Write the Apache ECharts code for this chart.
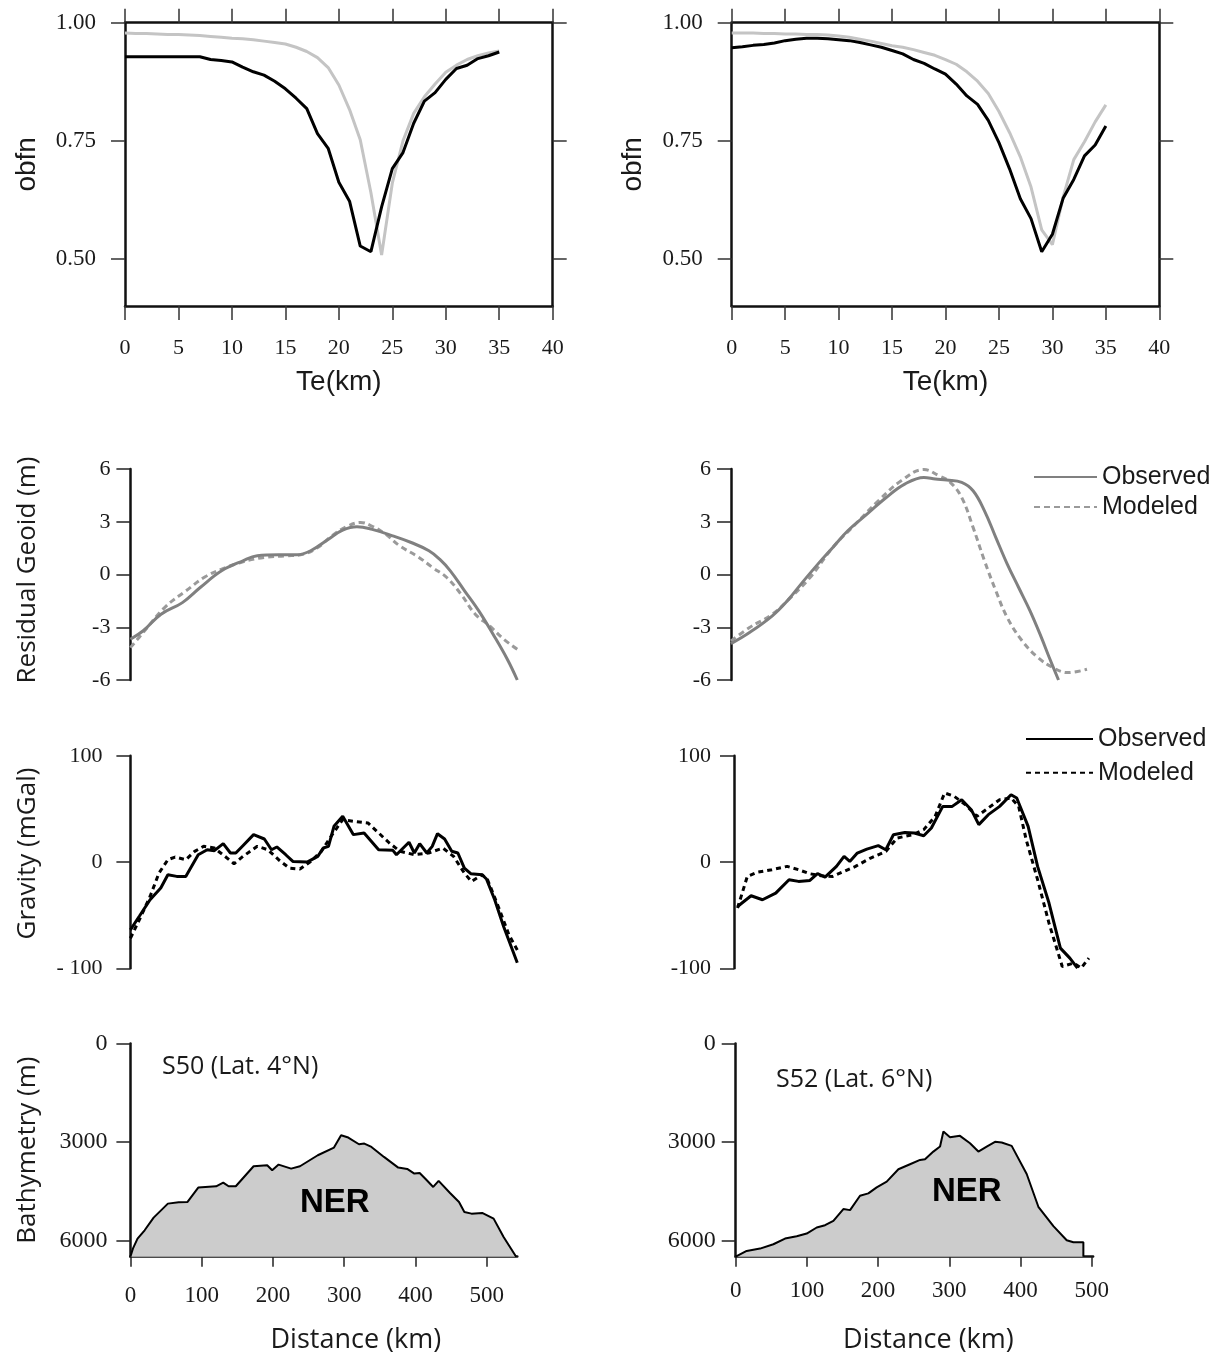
<!DOCTYPE html>
<html><head><meta charset="utf-8">
<script src="https://cdn.jsdelivr.net/npm/echarts@6/dist/echarts.min.js"></script>
<style>html,body{margin:0;padding:0;background:#fff}#c{width:1215px;height:1355px}</style>
</head><body><div id="c"></div>
<script>
// ---------- DATA ----------
const teValues = [0,1,2,3,4,5,6,7,8,9,10,11,12,13,14,15,16,17,18,19,20,21,22,23,24,25,26,27,28,29,30,31,32,33,34,35];
const obfnS50Black = [0.928,0.928,0.928,0.928,0.928,0.928,0.928,0.928,0.922,0.920,0.917,0.906,0.896,0.889,0.876,0.860,0.840,0.818,0.765,0.734,0.662,0.622,0.527,0.515,0.610,0.691,0.725,0.787,0.834,0.852,0.880,0.903,0.910,0.924,0.930,0.938];
const obfnS50Grey  = [0.978,0.977,0.977,0.976,0.975,0.975,0.974,0.973,0.971,0.969,0.967,0.966,0.964,0.961,0.958,0.955,0.948,0.939,0.926,0.905,0.868,0.816,0.752,0.640,0.508,0.660,0.750,0.808,0.843,0.870,0.895,0.910,0.922,0.930,0.936,0.940];
const obfnS52Black = [0.947,0.949,0.952,0.954,0.957,0.962,0.965,0.967,0.967,0.966,0.964,0.962,0.958,0.953,0.948,0.941,0.934,0.922,0.914,0.902,0.891,0.870,0.845,0.827,0.793,0.746,0.690,0.627,0.585,0.515,0.552,0.628,0.668,0.718,0.741,0.781];
const obfnS52Grey  = [0.978,0.978,0.978,0.977,0.977,0.976,0.976,0.975,0.975,0.974,0.972,0.969,0.965,0.961,0.956,0.951,0.948,0.943,0.937,0.931,0.922,0.912,0.896,0.876,0.850,0.812,0.767,0.716,0.652,0.561,0.530,0.630,0.710,0.748,0.790,0.826];
const obfnTicks = [0.5, 0.75, 1.0];

const geoidS50ObsX = [0,18,43,73,98,128,158,178,208,233,253,278,298,318,338,368,394,419,434,449,469,489,509,529,543];
const geoidS50ObsY = [-3.68,-3.2,-2.26,-1.6,-0.74,0.21,0.78,1.06,1.12,1.12,1.35,2.01,2.52,2.71,2.58,2.2,1.82,1.35,0.87,0.21,-0.93,-2.07,-3.4,-4.82,-6.0];
const geoidS50ModX = [0,18,48,78,105,128,158,188,218,243,263,283,303,323,338,358,378,404,424,444,464,484,504,524,543];
const geoidS50ModY = [-4.16,-3.3,-1.88,-0.93,-0.13,0.3,0.72,0.97,1.06,1.16,1.54,2.2,2.71,2.96,2.77,2.3,1.63,1.0,0.4,-0.17,-1.12,-2.26,-2.92,-3.68,-4.25];
const geoidS52ObsX = [0,26,58,79,100,122,143,164,191,218,244,271,287,303,324,340,356,372,388,404,420,436,447,460];
const geoidS52ObsY = [-3.93,-3.3,-2.35,-1.5,-0.46,0.59,1.54,2.49,3.43,4.38,5.14,5.52,5.43,5.37,5.24,4.76,3.62,2.1,0.59,-0.74,-2.07,-3.59,-4.72,-6.0];
const geoidS52ModX = [0,26,58,79,111,143,175,207,239,271,292,308,324,340,356,372,388,409,431,452,473,500];
const geoidS52ModY = [-3.78,-3.02,-2.26,-1.5,-0.17,1.54,2.87,4.19,5.33,5.97,5.62,5.24,4.38,2.68,0.78,-0.93,-2.45,-3.78,-4.72,-5.29,-5.58,-5.39];

const gravS50ObsX = [0,12.5,27.6,42.6,52.6,65,77.7,95.2,107.8,117.8,130.3,140.4,147.9,157.9,172.9,188,198,205.5,218,228,248,263,270.7,278,285.7,298,313,328,348.4,368.4,373.4,391,398.5,406,416,423.6,431,441,451,459.6,468.7,477.7,493.7,499.7,511.3,523.8,543];
const gravS50ObsY = [-63.8,-51,-35.5,-24.5,-12,-13.5,-13.5,6.9,11.6,10.7,17.3,8.5,8.5,15.4,25.8,21.7,11.6,14.2,6.9,0.6,0,5.3,13.2,14.8,33.6,43.1,25.8,27.4,11.6,11,6.9,18.6,8.5,17.3,8.5,14.8,26.7,21.7,10.1,8.5,-5.7,-11,-12,-16,-35.5,-60.7,-94.7];
const gravS50ModX = [0,12.5,27.6,40.1,52.6,62.7,77.7,90.2,102.8,117.8,132.8,145.4,157.9,178,193,208,223,238,253,268,283.2,298,313,333.3,348.4,363.4,378.4,398.5,418.5,438.6,453.6,468.7,478.7,493.7,501.3,516.3,531.3,543];
const gravS50ModY = [-71.7,-54.4,-32.4,-10.4,2.2,4.7,2.2,10.1,14.8,13.2,5.3,-1.6,5.3,14.8,11.6,2.2,-5.7,-6.6,0.6,10.1,25.8,39.9,38.4,36.8,27.4,17.9,10.1,6.9,8.5,13.2,5.3,-10.4,-18.2,-12,-16.7,-41.8,-68.6,-82.7];
const gravS52ObsX = [5,24,40,58.6,77.3,90.6,106.6,117.3,127.9,143.9,154.6,162.6,173.2,186.6,202.6,213.2,223.9,239.9,253.2,266.5,277.2,293.2,306.5,319.8,333.2,343.8,357.2,373.1,389.1,397.1,413.1,426.4,442.4,458.4,471.7,482.4];
const gravS52ObsY = [-41.8,-31.7,-35.5,-29.2,-16.6,-18.2,-17.3,-11,-14.1,-4.1,5.3,0.6,8.5,12.2,15.4,11.6,25.7,27.9,27.3,24.8,32,52.4,52.4,58.7,49.3,35.2,44.6,52.4,63.4,60.3,33.6,-4.1,-38.6,-81,-90.4,-99.8];
const gravS52ModX = [5,18.7,32,53.3,74.6,90.6,106.6,122.6,138.6,154.6,170.6,191.9,213.2,229.2,250.5,266.5,282.5,295.8,309.2,325.2,341.2,357.2,373.1,389.1,399.8,410.4,426.4,442.4,461,477.1,487.7,498.4];
const gravS52ModY = [-43.3,-13.5,-9.7,-7.2,-4.1,-7.2,-11,-12.9,-13.5,-8.8,-4.1,3.8,10,22.6,25.7,30.5,43,65,61.9,54,43,50.9,58.7,60.3,52.4,21,-16.6,-57.5,-98.3,-95.1,-99.8,-90.4];

const bathyS50X = [0,3.5,10,20,32.6,52.6,67.7,80.2,95.2,120.3,130.3,137.8,147.9,172.9,192,199,208,225.6,238,263,285.7,295.7,305.8,320.8,328.3,338.3,355.9,375.9,388.5,398.5,406,416,425,432.6,448.6,461.2,468.7,478.7,493.7,509.8,523.8,541.4];
const bathyS50Depth = [6500,6254,5949,5695,5309,4882,4841,4831,4393,4353,4241,4353,4353,3743,3712,3865,3692,3814,3743,3407,3173,2797,2868,3071,3051,3153,3458,3783,3824,3966,3946,4170,4373,4190,4556,4831,5136,5187,5166,5339,5899,6500];
const bathyS52X = [0,15.4,34.2,52.9,69.3,85.7,99.7,113.8,125.5,137.2,151.2,160.6,174.6,186.3,198,212.1,228.5,244.8,258.9,265.9,277.6,287,291.7,301,315,329.1,340.8,352.5,364.2,373.6,387.6,408.7,425.1,446.2,464.9,474.3,488.3,488.3];
const bathyS52Depth = [6500,6324,6253,6120,5947,5875,5794,5610,5539,5406,5049,5080,4641,4570,4386,4213,3835,3682,3550,3529,3295,3142,2683,2856,2815,3040,3295,3142,2999,3019,3121,3978,4978,5569,5998,6059,6059,6500];

const distTicks = [0,100,200,300,400,500];
const bathyTicks = [0,3000,6000];
const teTickLabels = ['0','5','10','15','20','25','30','35','40'];

// ---------- HELPERS ----------
const zip = (xs, ys) => xs.map((x, i) => [x, ys[i]]);
const SERIF = 'Liberation Serif';
const SANS = 'Liberation Sans';
const HUM = 'Open Sans';
const TXT = '#1a1a1a';

function topX(grid, pos) {
  const bottom = pos === 'bottom';
  return {
    gridIndex: grid, type: 'value', position: pos, min: 0, max: 40, interval: 5,
    axisLine: {show: true, onZero: false, lineStyle: {color: '#111', width: 2.5}},
    axisTick: {show: true, length: 14, lineStyle: {color: '#333', width: 1.5}},
    axisLabel: {show: bottom, margin: 31, fontFamily: SERIF, fontSize: 22, color: TXT,
      formatter: v => teTickLabels[Math.round(v / 5)]},
    splitLine: {show: false},
    name: bottom ? 'Te(km)' : '', nameLocation: 'middle', nameGap: 62,
    nameTextStyle: {fontFamily: SANS, fontSize: 28, color: TXT}
  };
}
function topY(grid, pos) {
  const left = pos === 'left';
  return {
    gridIndex: grid, type: 'value', position: pos, min: 0.4, max: 1.0,
    axisLine: {show: true, onZero: false, lineStyle: {color: '#111', width: 2.5}},
    axisTick: {show: true, length: 14, customValues: obfnTicks, lineStyle: {color: '#333', width: 1.5}},
    axisLabel: {show: left, margin: 29, customValues: obfnTicks, fontFamily: SERIF, fontSize: 23, color: TXT,
      formatter: v => v.toFixed(2)},
    splitLine: {show: false},
    name: left ? 'obfn' : '', nameLocation: 'middle', nameGap: 84,
    nameTextStyle: {fontFamily: SANS, fontSize: 28, color: TXT}
  };
}
function hiddenX(grid, max) {
  return {gridIndex: grid, type: 'value', min: 0, max: max, show: false};
}
function profY(grid, opts) {
  return Object.assign({
    gridIndex: grid, type: 'value', position: 'left',
    axisLine: {show: true, onZero: false, lineStyle: {color: '#111', width: 2.5}},
    axisTick: {show: true, length: 14, lineStyle: {color: '#222', width: 1.5}},
    splitLine: {show: false},
    nameLocation: 'middle', nameGap: 90
  }, opts);
}
function distX(grid, max, nameGap, pad, margin) {
  return {
    gridIndex: grid, type: 'value', position: 'bottom', min: 0, max: max,
    axisLine: {show: true, onZero: false, lineStyle: {color: '#111', width: 2.5}},
    axisTick: {show: true, length: 10, customValues: distTicks, lineStyle: {color: '#222', width: 1.5}},
    axisLabel: {margin: margin, customValues: distTicks, fontFamily: SERIF, fontSize: 23, color: TXT,
      formatter: v => String(v)},
    splitLine: {show: false},
    name: 'Distance (km)', nameLocation: 'middle', nameGap: nameGap,
    nameTextStyle: {fontFamily: HUM, fontSize: 27, color: TXT, padding: [0, 0, 0, pad]}
  };
}
function line(name, xi, yi, data, color, width, dash, smooth) {
  return {
    name: name, type: 'line', xAxisIndex: xi, yAxisIndex: yi, data: data,
    symbol: 'none', smooth: smooth || false, silent: true,
    lineStyle: {color: color, width: width, type: dash || 'solid', cap: 'butt'},
    itemStyle: {color: color}
  };
}
function legendBox(names, left, top, width, gap) {
  return {
    data: names, orient: 'vertical', left: left, top: top,
    padding: 0, itemWidth: width, itemHeight: 2, itemGap: gap, selectedMode: false,
    itemStyle: {opacity: 0, borderWidth: 0},
    formatter: n => n.split(' ')[0],
    textStyle: {fontFamily: SANS, fontSize: 25, lineHeight: 25, color: TXT}
  };
}

const W_L = 543 * 0.7125;
const W_R = 502 * 0.712;

const option = {
  animation: false,
  backgroundColor: '#ffffff',
  grid: [
    {left: 125, top: 22.7, width: 427.7, height: 283.3, outerBoundsMode: 'none'},
    {left: 731.7, top: 22.7, width: 427.6, height: 283.3, outerBoundsMode: 'none'},
    {left: 130.4, top: 469, width: W_L, height: 211, outerBoundsMode: 'none'},
    {left: 731, top: 469, width: W_R, height: 211, outerBoundsMode: 'none'},
    {left: 130.4, top: 755.8, width: W_L, height: 212.5, outerBoundsMode: 'none'},
    {left: 734, top: 755.8, width: W_R, height: 212.5, outerBoundsMode: 'none'},
    {left: 130.4, top: 1043.5, width: W_L, height: 213.2, outerBoundsMode: 'none'},
    {left: 735.7, top: 1043.5, width: W_R, height: 213.2, outerBoundsMode: 'none'}
  ],
  xAxis: [
    topX(0, 'bottom'), topX(0, 'top'), topX(1, 'bottom'), topX(1, 'top'),
    hiddenX(2, 543), hiddenX(3, 502), hiddenX(4, 543), hiddenX(5, 502),
    distX(6, 543, 70, 64, 28), distX(7, 502, 70, 28, 23)
  ],
  yAxis: [
    topY(0, 'left'), topY(0, 'right'), topY(1, 'left'), topY(1, 'right'),
    profY(2, {min: -6, max: 6, interval: 3,
      axisLabel: {margin: 20, fontFamily: SERIF, fontSize: 22, color: TXT},
      name: 'Residual Geoid (m)', nameTextStyle: {fontFamily: HUM, fontSize: 26, color: TXT, padding: [0, 0, 0, 9]}}),
    profY(3, {min: -6, max: 6, interval: 3,
      axisLabel: {margin: 20, fontFamily: SERIF, fontSize: 22, color: TXT}}),
    profY(4, {min: -100, max: 100, interval: 100,
      axisLabel: {margin: 28, fontFamily: SERIF, fontSize: 22, color: TXT,
        formatter: v => v < 0 ? '- ' + Math.abs(v) : String(v)},
      name: 'Gravity (mGal)', nameTextStyle: {fontFamily: HUM, fontSize: 26, color: TXT, padding: [0, 0, 0, 17]}}),
    profY(5, {min: -100, max: 100, interval: 100,
      axisLabel: {margin: 23, fontFamily: SERIF, fontSize: 22, color: TXT}}),
    profY(6, {min: 0, max: 6500, inverse: true,
      axisTick: {show: true, length: 14, customValues: bathyTicks, lineStyle: {color: '#222', width: 1.5}},
      axisLabel: {margin: 23, customValues: bathyTicks, fontFamily: SERIF, fontSize: 24, color: TXT,
        formatter: v => String(v)},
      name: 'Bathymetry (m)', nameTextStyle: {fontFamily: HUM, fontSize: 26, color: TXT}}),
    profY(7, {min: 0, max: 6500, inverse: true,
      axisTick: {show: true, length: 14, customValues: bathyTicks, lineStyle: {color: '#222', width: 1.5}},
      axisLabel: {margin: 20, customValues: bathyTicks, fontFamily: SERIF, fontSize: 24, color: TXT,
        formatter: v => String(v)}})
  ],
  legend: [
    legendBox(['Observed geoid', 'Modeled geoid'], 1033, 464.5, 63, 5),
    legendBox(['Observed gravity', 'Modeled gravity'], 1025, 726.5, 67, 8.7)
  ],
  title: [
    {text: 'S50 (Lat. 4°N)', left: 162, top: 1054, padding: 0,
      textStyle: {fontFamily: HUM, fontSize: 25, fontWeight: 'normal', color: TXT}},
    {text: 'S52 (Lat. 6°N)', left: 776, top: 1067, padding: 0,
      textStyle: {fontFamily: HUM, fontSize: 25, fontWeight: 'normal', color: TXT}},
    {text: 'NER', left: 300, top: 1186, padding: 0,
      textStyle: {fontFamily: SANS, fontSize: 33, fontWeight: 'bold', color: '#000'}},
    {text: 'NER', left: 932, top: 1175, padding: 0,
      textStyle: {fontFamily: SANS, fontSize: 33, fontWeight: 'bold', color: '#000'}}
  ],
  series: [
    line('obfn grey S50', 0, 0, zip(teValues, obfnS50Grey), '#c4c4c4', 3),
    line('obfn black S50', 0, 0, zip(teValues, obfnS50Black), '#000', 3),
    line('obfn grey S52', 2, 2, zip(teValues, obfnS52Grey), '#c4c4c4', 3),
    line('obfn black S52', 2, 2, zip(teValues, obfnS52Black), '#000', 3),

    line('Modeled geoid S50', 4, 4, zip(geoidS50ModX, geoidS50ModY), '#9a9a9a', 3, [6, 4], 0.4),
    line('Observed geoid S50', 4, 4, zip(geoidS50ObsX, geoidS50ObsY), '#808080', 3, 'solid', 0.4),
    line('Modeled geoid', 5, 5, zip(geoidS52ModX, geoidS52ModY), '#9a9a9a', 3, [6, 4], 0.4),
    line('Observed geoid', 5, 5, zip(geoidS52ObsX, geoidS52ObsY), '#808080', 3, 'solid', 0.4),

    line('Modeled gravity S50', 6, 6, zip(gravS50ModX, gravS50ModY), '#000', 3, [5, 4]),
    line('Observed gravity S50', 6, 6, zip(gravS50ObsX, gravS50ObsY), '#000', 3),
    line('Modeled gravity', 7, 7, zip(gravS52ModX, gravS52ModY), '#000', 3, [5, 4]),
    line('Observed gravity', 7, 7, zip(gravS52ObsX, gravS52ObsY), '#000', 3),

    Object.assign(line('Bathymetry S50', 8, 8, zip(bathyS50X, bathyS50Depth), '#000', 2),
      {areaStyle: {color: '#cccccc', opacity: 1, origin: 'end'}}),
    Object.assign(line('Bathymetry S52', 9, 9, zip(bathyS52X, bathyS52Depth), '#000', 2),
      {areaStyle: {color: '#cccccc', opacity: 1, origin: 'end'}})
  ]
};
const chart = echarts.init(document.getElementById('c'), null, {renderer: 'canvas'});
chart.setOption(option);
</script>
</body></html>
